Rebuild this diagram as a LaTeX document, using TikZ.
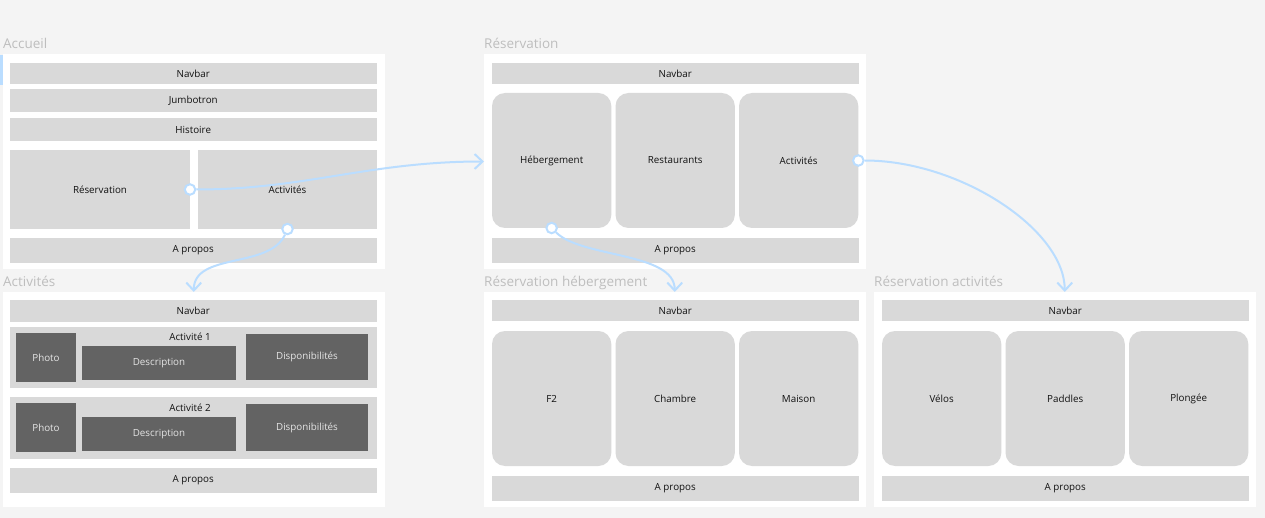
\documentclass[tikz,border=0pt]{standalone}
\usepackage{fontspec}
\setmainfont{Open Sans}
\usetikzlibrary{positioning, arrows.meta}

\definecolor{canvasbg}{HTML}{F4F4F4}
\definecolor{boxgray}{HTML}{D9D9D9}
\definecolor{boxdark}{HTML}{636363}
\definecolor{titlegray}{HTML}{BEBEBE}
\definecolor{linkblue}{HTML}{BADDFF}
\definecolor{ink}{HTML}{111111}

\begin{document}
\begin{tikzpicture}[
        x=1pt, y=-1pt,
        node distance=4.2pt,
        page/.style={fill=white, anchor=north west, inner sep=0pt, outer sep=0pt, minimum width=381.5pt, minimum height=215pt},
        pagetitle/.style={anchor=base west, inner sep=0pt, text=titlegray, font=\fontsize{13.5}{15}\selectfont},
        bar/.style={fill=boxgray, anchor=north west, inner sep=0pt, outer sep=0pt, minimum width=366.5pt, minimum height=22pt, text=ink, font=\fontsize{9.8}{11}\selectfont},
        card/.style={fill=boxgray, rounded corners=13pt, inner sep=0pt, outer sep=0pt, minimum width=119.3pt, minimum height=135pt, text=ink, font=\fontsize{9.8}{11}\selectfont},
        dark/.style={fill=boxdark, anchor=north west, inner sep=0pt, outer sep=0pt, text=white!90!black, font=\fontsize{9.8}{11}\selectfont},
        caption/.style={inner sep=0pt, text=ink, font=\fontsize{9.8}{11}\selectfont},
        handle/.style={circle, draw=linkblue, fill=white, line width=2pt, minimum size=10.5pt, inner sep=0pt},
        link/.style={draw=linkblue, line width=2pt, -{Straight Barb[length=8pt, width=15pt]}}
    ]
        \useasboundingbox (0,0) rectangle (1265,518);
        \fill[canvasbg] (0,0) rectangle (1265,518);
        \fill[linkblue] (0,55) rectangle (3,85);

        %Accueil
        \node[pagetitle] (t_accueil) at (3,49) {Accueil};
        \node[page] (accueil) at (3,54) {};
        \node[bar, minimum height=21pt] (a_nav) at (10,63) {Navbar};
        \node[bar, minimum height=23pt] (a_jumbo) at (10,89) {Jumbotron};
        \node[bar, minimum height=23pt] (a_hist) at (10,118) {Histoire};
        \node[bar, minimum width=180pt, minimum height=79pt] (a_resa) at (10,150) {Réservation};
        \node[bar, minimum width=179pt, minimum height=79pt, anchor=west, right=8pt of a_resa] (a_act) {Activités};
        \node[bar, minimum height=25pt] (a_propos) at (10,238) {A propos};

        %Activites
        \node[pagetitle] (t_act) at (3,286.7) {Activités};
        \node[page] (act) at (3,292) {};
        \node[bar] (ac_nav) at (10,300) {Navbar};
        \node[bar, minimum height=61pt] (ac_bloc1) at (10,327) {};
        \node[caption] (ac_lbl1) at (190,337) {Activité 1};
        \node[dark, minimum width=60pt, minimum height=49pt] (ac_photo1) at (16,333) {Photo};
        \node[dark, minimum width=154pt, minimum height=34pt] (ac_desc1) at (82,346) {Description};
        \node[dark, minimum width=122pt, minimum height=46pt] (ac_dispo1) at (246,334) {\raisebox{2.5pt}{Disponibilités}};
        \node[bar, minimum height=62pt] (ac_bloc2) at (10,397) {};
        \node[caption] (ac_lbl2) at (190,407.5) {Activité 2};
        \node[dark, minimum width=60pt, minimum height=49pt] (ac_photo2) at (16,403) {Photo};
        \node[dark, minimum width=154pt, minimum height=34pt] (ac_desc2) at (82,417) {Description};
        \node[dark, minimum width=122pt, minimum height=47pt] (ac_dispo2) at (246,404) {\raisebox{2.5pt}{Disponibilités}};
        \node[bar, minimum height=25pt] (ac_propos) at (10,468) {A propos};

        %Reservation
        \node[pagetitle] (t_resa) at (484,49) {Réservation};
        \node[page] (resa) at (484,54) {};
        \node[bar, minimum height=21pt] (r_nav) at (492,63) {Navbar};
        \node[card, anchor=north west] (r_heb) at (492,93) {Hébergement};
        \node[card, right=of r_heb] (r_rest) {Restaurants};
        \node[card, right=of r_rest] (r_act) {Activités};
        \node[bar, minimum height=25pt] (r_propos) at (492,238) {A propos};

        %Reservation hebergement
        \node[pagetitle] (t_rheb) at (484,286.7) {Réservation hébergement};
        \node[page] (rheb) at (484,292) {};
        \node[bar, minimum height=21pt] (h_nav) at (492,300) {Navbar};
        \node[card, anchor=north west] (h_f2) at (492,331) {F2};
        \node[card, right=of h_f2] (h_chambre) {Chambre};
        \node[card, right=of h_chambre] (h_maison) {Maison};
        \node[bar, minimum height=25pt] (h_propos) at (492,476) {A propos};

        %Reservation activites
        \node[pagetitle] (t_ract) at (874,286.7) {Réservation activités};
        \node[page] (ract) at (874,292) {};
        \node[bar, minimum height=21pt] (v_nav) at (882,300) {Navbar};
        \node[card, anchor=north west] (v_velos) at (882,331) {Vélos};
        \node[card, right=of v_velos] (v_paddles) {Paddles};
        \node[card, right=of v_paddles] (v_plongee) {Plongée};
        \node[bar, minimum height=25pt] (v_propos) at (882,476) {A propos};

        %Liens
        \node[handle] (d_resa) at (a_resa.east) {};
        \node[handle] (d_act) at (a_act.south) {};
        \node[handle] (d_heb) at (r_heb.south) {};
        \node[handle] (d_ract) at (r_act.east) {};
        \draw[link] (d_resa) .. controls +(115,0) and +(-115,0) .. (resa.west);
        \draw[link] (d_act) .. controls +(-18,40) and +(0,-40) .. (act.north);
        \draw[link] (d_heb) .. controls +(30,30) and +(0,-40) .. (rheb.north);
        \draw[link] (d_ract) .. controls +(102,0) and +(0,-62) .. (ract.north);
    \end{tikzpicture}
\end{document}
